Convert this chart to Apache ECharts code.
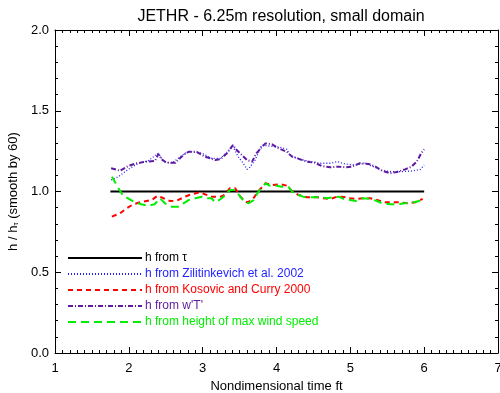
<!DOCTYPE html>
<html>
<head>
<meta charset="utf-8">
<script src="https://cdn.jsdelivr.net/npm/echarts@6/dist/echarts.min.js"></script>
<style>
  html, body { margin: 0; padding: 0; background: #fff; }
  #chart { width: 500px; height: 393px; }
</style>
</head>
<body>
<div id="chart"></div>
<script>
// values, [ft, h/h_tau]
const tauLine = [[1.75, 1.0], [6.0, 1.0]]
const zilitinkevich = [[1.76,1.071],[1.86,1.092],[1.99,1.137],[2.13,1.175],[2.26,1.19],[2.40,1.237],[2.47,1.185],[2.58,1.175],[2.76,1.237],[2.84,1.246],[2.99,1.237],[3.12,1.205],[3.24,1.205],[3.41,1.28],[3.48,1.216],[3.55,1.175],[3.60,1.137],[3.64,1.15],[3.71,1.195],[3.80,1.288],[3.92,1.28],[4.05,1.274],[4.14,1.261],[4.18,1.226],[4.32,1.199],[4.46,1.185],[4.59,1.175],[4.73,1.175],[4.82,1.185],[4.93,1.17],[5.07,1.164],[5.20,1.175],[5.29,1.158],[5.43,1.129],[5.56,1.123],[5.70,1.123],[5.83,1.127],[5.95,1.137],[6.0,1.164]]
const kosovic = [[1.77,0.844],[1.88,0.865],[1.97,0.896],[2.06,0.921],[2.15,0.933],[2.24,0.941],[2.31,0.947],[2.39,0.974],[2.47,0.958],[2.56,0.941],[2.65,0.943],[2.76,0.968],[2.85,0.983],[2.96,0.995],[3.03,0.983],[3.12,0.968],[3.24,0.968],[3.28,0.974],[3.37,1.02],[3.44,1.02],[3.51,0.968],[3.60,0.933],[3.67,0.947],[3.75,0.999],[3.85,1.051],[3.94,1.04],[4.05,1.045],[4.14,1.036],[4.21,1.003],[4.30,0.978],[4.41,0.964],[4.55,0.964],[4.64,0.958],[4.73,0.954],[4.82,0.968],[4.91,0.966],[5.0,0.958],[5.09,0.954],[5.18,0.958],[5.27,0.958],[5.36,0.947],[5.47,0.933],[5.58,0.933],[5.67,0.933],[5.79,0.927],[5.88,0.933],[5.98,0.954]]
const wT = [[1.76,1.144],[1.88,1.129],[1.99,1.158],[2.11,1.175],[2.24,1.185],[2.355,1.19],[2.40,1.232],[2.445,1.199],[2.51,1.178],[2.63,1.178],[2.74,1.226],[2.81,1.246],[2.92,1.246],[3.03,1.216],[3.17,1.195],[3.24,1.2],[3.33,1.237],[3.41,1.288],[3.46,1.257],[3.53,1.226],[3.60,1.195],[3.67,1.185],[3.72,1.232],[3.80,1.274],[3.85,1.298],[3.94,1.292],[4.03,1.267],[4.14,1.246],[4.21,1.216],[4.32,1.199],[4.41,1.185],[4.52,1.178],[4.61,1.158],[4.73,1.15],[4.84,1.154],[4.93,1.15],[5.02,1.154],[5.13,1.175],[5.25,1.17],[5.34,1.154],[5.43,1.129],[5.54,1.113],[5.63,1.121],[5.74,1.137],[5.83,1.154],[5.90,1.185],[5.96,1.237],[6.0,1.261]]
const maxWind = [[1.77,1.092],[1.81,1.061],[1.86,1.02],[1.93,0.968],[1.99,0.958],[2.08,0.933],[2.17,0.921],[2.26,0.912],[2.35,0.921],[2.42,0.958],[2.49,0.927],[2.58,0.906],[2.67,0.906],[2.74,0.927],[2.81,0.947],[2.90,0.958],[2.99,0.968],[3.06,0.958],[3.12,0.958],[3.17,0.933],[3.24,0.952],[3.30,0.974],[3.37,1.009],[3.44,1.009],[3.51,0.968],[3.57,0.933],[3.62,0.927],[3.69,0.947],[3.75,0.995],[3.85,1.051],[3.91,1.036],[4.0,1.036],[4.07,1.03],[4.16,1.03],[4.21,0.999],[4.27,0.983],[4.36,0.968],[4.45,0.964],[4.59,0.964],[4.68,0.958],[4.77,0.964],[4.84,0.968],[4.91,0.954],[5.0,0.947],[5.07,0.941],[5.16,0.958],[5.27,0.954],[5.36,0.941],[5.43,0.927],[5.54,0.921],[5.63,0.921],[5.74,0.927],[5.86,0.933],[5.98,0.947]]

const names = ['h from τ', 'h from Zilitinkevich et al. 2002', 'h from Kosovic and Curry 2000', "h from w'T'", 'h from height of max wind speed']
const colors = ['#000000', '#1f1fff', '#ff0000', '#5f1aa0', '#00ee00']

const font = 'Liberation Sans, Arial, sans-serif'
const chart = echarts.init(document.getElementById('chart'))

const xBase = {
  type: 'value', min: 1, max: 7, interval: 1,
  axisLine: { show: true, onZero: false, lineStyle: { color: '#000', width: 1 } },
  axisTick: { show: true, inside: true, length: 6, lineStyle: { color: '#000' } },
  minorTick: { show: true, splitNumber: 10, length: 3, lineStyle: { color: '#000' } },
  splitLine: { show: false }
}
const yBase = {
  type: 'value', min: 0, max: 2, interval: 0.5,
  axisLine: { show: true, onZero: false, lineStyle: { color: '#000', width: 1 } },
  axisTick: { show: true, inside: true, length: 6, lineStyle: { color: '#000' } },
  minorTick: { show: true, splitNumber: 5, length: 3, lineStyle: { color: '#000' } },
  splitLine: { show: false }
}

const mk = (i, data, width, type) => ({
  name: names[i], type: 'line', data: data, xAxisIndex: 0, yAxisIndex: 0,
  showSymbol: false, symbol: 'none', animation: false,
  lineStyle: { color: colors[i], width: width, type: type },
  itemStyle: { color: colors[i] }
})

chart.setOption({
  animation: false,
  title: {
    text: 'JETHR - 6.25m resolution, small domain',
    left: 276, top: 4, textAlign: 'center',
    textStyle: { fontFamily: font, fontSize: 16, fontWeight: 'normal', color: '#000' }
  },
  grid: { left: 55, right: 2, top: 30, bottom: 40, outerBoundsMode: 'none' },
  legend: {
    orient: 'vertical', left: 62, top: 247,
    itemWidth: 74, itemHeight: 10, itemGap: 4,
    textStyle: { fontFamily: font, fontSize: 12, padding: [0, 0, 0, -2] },
    // hide the circle marker ECharts puts on line legend icons
    itemStyle: { color: 'rgba(0,0,0,0)', borderWidth: 0, borderColor: 'rgba(0,0,0,0)' },
    data: names.map((n, i) => ({ name: n, textStyle: { color: colors[i] } }))
  },
  xAxis: [
    Object.assign({}, xBase, {
      position: 'bottom',
      name: 'Nondimensional time ft', nameLocation: 'middle', nameGap: 25,
      nameTextStyle: { fontFamily: font, fontSize: 13, color: '#000' },
      axisLabel: { fontFamily: font, fontSize: 13, color: '#000', margin: 9 }
    }),
    Object.assign({}, xBase, { position: 'top', axisLabel: { show: false } })
  ],
  yAxis: [
    Object.assign({}, yBase, {
      position: 'left',
      name: 'h / h{sub|τ} (smooth by 60)', nameLocation: 'middle', nameGap: 24,
      nameTextStyle: {
        fontFamily: font, fontSize: 13, color: '#000',
        rich: { sub: { fontFamily: font, fontSize: 8, color: '#000', verticalAlign: 'bottom', padding: [6, 0, 0, 0] } }
      },
      axisLabel: { fontFamily: font, fontSize: 13, color: '#000', margin: 6, formatter: v => v.toFixed(1) }
    }),
    Object.assign({}, yBase, { position: 'right', axisLabel: { show: false } })
  ],
  series: [
    mk(0, tauLine, 2, 'solid'),
    mk(1, zilitinkevich, 1.3, [1, 2]),
    mk(2, kosovic, 2, [5, 4]),
    mk(3, wT, 2, [5, 2, 1, 2]),
    mk(4, maxWind, 2, [8, 5])
  ]
})
</script>
</body>
</html>
